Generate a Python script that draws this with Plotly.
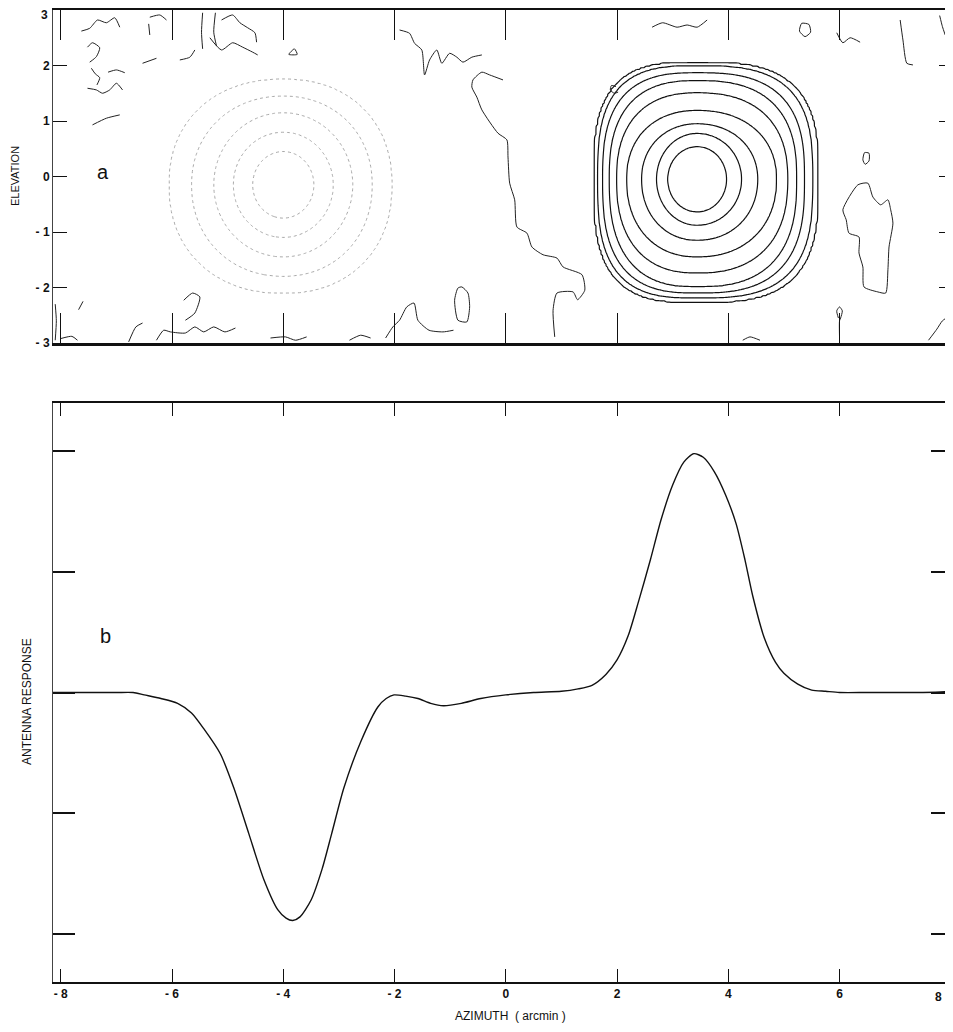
import numpy as np
import plotly.graph_objects as go

# ---------------- data ----------------
# (b) antenna response cut along azimuth (arcmin) ; response in tick units
AZIMUTH = [-8.15, -7.5, -7.0, -6.7, -6.5, -6.2, -5.9, -5.65, -5.43, -5.13, -4.89, -4.62,
           -4.35, -4.1, -3.95, -3.83, -3.7, -3.5, -3.3, -3.13, -2.91, -2.6, -2.3, -2.15,
           -2.01, -1.8, -1.58, -1.35, -1.12, -0.8, -0.45, 0.0, 0.5, 1.0, 1.3, 1.55, 1.8,
           2.0, 2.2, 2.39, 2.6, 2.79, 3.0, 3.2, 3.38, 3.55, 3.75, 3.95, 4.14, 4.3, 4.44,
           4.65, 4.85, 5.0, 5.25, 5.5, 5.75, 6.0, 6.5, 7.0, 7.5, 8.0, 8.15]
RESPONSE = [0.0, 0.0, 0.0, 0.0, -0.02, -0.05, -0.09, -0.17, -0.30, -0.51, -0.79, -1.17,
            -1.55, -1.80, -1.87, -1.89, -1.86, -1.72, -1.46, -1.17, -0.79, -0.40, -0.12, -0.05,
            -0.02, -0.03, -0.05, -0.09, -0.11, -0.09, -0.05, -0.02, 0.0, 0.01, 0.03, 0.06, 0.15,
            0.27, 0.47, 0.76, 1.10, 1.43, 1.72, 1.91, 1.98, 1.95, 1.83, 1.64, 1.40, 1.10, 0.80,
            0.45, 0.25, 0.16, 0.07, 0.02, 0.01, 0.0, 0.0, 0.0, 0.0, 0.01, 0.02]

# (a) positive source contour rings (extents in arcmin from the centre, inner -> outer)
POS_CENTER = (3.44, -0.05)
POS_EAST = [0.53, 0.80, 1.09, 1.43, 1.63, 1.79, 1.93, 2.08, 2.17]
POS_WEST = [0.53, 0.73, 1.00, 1.27, 1.45, 1.58, 1.70, 1.79, 1.85]
POS_NORTH = [0.59, 0.83, 1.00, 1.24, 1.56, 1.78, 1.92, 2.05, 2.10]
POS_SOUTH = [0.59, 0.83, 1.10, 1.40, 1.69, 1.94, 2.05, 2.14, 2.21]
POS_SQUARENESS = [2.0, 2.0, 2.1, 2.2, 2.4, 2.6, 2.8, 3.0, 3.1]

# (a) negative source (dotted) rings
NEG_CENTER = (-4.0, -0.15)
NEG_EAST = [0.55, 0.9, 1.25, 1.6, 1.95]
NEG_WEST = [0.55, 0.9, 1.25, 1.65, 2.05]
NEG_NORTH = [0.6, 0.95, 1.3, 1.6, 1.9]
NEG_SOUTH = [0.6, 0.95, 1.3, 1.65, 1.95]
NEG_SQUARENESS = [2.0, 2.0, 2.0, 2.1, 2.2]

# (a) low-level noise contours (azimuth, elevation)
NOISE_LINES = [
    ([-0.05, -0.29, -0.43, -0.59, -0.61, -0.52, -0.43, -0.14, 0.02, 0.04, 0.07, 0.16, 0.20, 0.38,
      0.47, 0.67, 0.92, 1.03, 1.37, 1.42, 1.29, 1.21, 0.92, 0.85, 0.88],
     [1.74, 1.83, 1.88, 1.74, 1.61, 1.43, 1.20, 0.78, 0.66, 0.35, -0.12, -0.42, -0.91, -1.02,
      -1.27, -1.41, -1.47, -1.63, -1.77, -2.05, -2.22, -2.08, -2.10, -2.41, -2.89]),
    ([-7.63, -7.48, -7.34, -7.18, -7.03, -6.94], [2.62, 2.67, 2.82, 2.77, 2.86, 2.69]),
    ([-7.52, -7.43, -7.30, -7.36, -7.48], [2.33, 2.41, 2.32, 2.16, 2.06]),
    ([-7.45, -7.38, -7.30, -7.35], [1.95, 1.85, 1.78, 1.65]),
    ([-7.15, -7.0, -6.85], [1.88, 1.92, 1.87]),
    ([-7.52, -7.36, -7.25, -7.12, -7.0, -6.89], [1.59, 1.56, 1.50, 1.56, 1.68, 1.56]),
    ([-7.43, -7.18, -6.94], [0.93, 1.05, 1.11]),
    ([-6.53, -6.28], [2.04, 2.13]),
    ([-6.42, -6.40], [2.75, 2.55]),
    ([-5.86, -5.68, -5.59], [2.10, 2.15, 2.28]),
    ([-5.45, -5.47, -5.45], [2.95, 2.60, 2.30]),
    ([-5.22, -5.25, -5.20], [2.95, 2.60, 2.35]),
    ([-5.32, -5.11, -4.91, -4.73, -4.55, -4.46], [2.50, 2.28, 2.41, 2.33, 2.24, 2.19]),
    ([-5.11, -4.91, -4.78, -4.64, -4.51, -4.48], [2.82, 2.91, 2.77, 2.68, 2.59, 2.42]),
    ([-6.40, -6.22, -6.10], [2.87, 2.91, 2.82]),
    ([-3.90, -3.80, -3.75, -3.90], [2.20, 2.30, 2.20, 2.20]),
    ([-1.91, -1.73, -1.64, -1.51, -1.46, -1.37, -1.24, -1.15, -1.01, -0.88, -0.77, -0.61, -0.43],
     [2.64, 2.58, 2.40, 2.28, 1.83, 2.10, 2.28, 2.04, 2.22, 2.15, 2.06, 2.15, 2.19]),
    ([1.98, 1.90, 1.88, 1.95, 2.02], [1.62, 1.64, 1.56, 1.50, 1.52]),
    ([2.63, 2.82, 3.08, 3.26, 3.44, 3.62], [2.69, 2.77, 2.69, 2.73, 2.69, 2.82]),
    ([5.28, 5.32, 5.45, 5.48, 5.38, 5.28], [2.62, 2.76, 2.74, 2.60, 2.52, 2.62]),
    ([5.95, 6.06, 6.19, 6.37], [2.59, 2.41, 2.50, 2.42]),
    ([7.09, 7.14, 7.21, 7.32], [2.82, 2.46, 2.04, 2.01]),
    ([7.80, 7.85, 7.90], [2.90, 2.70, 2.55]),
    ([6.06, 6.33, 6.51, 6.60, 6.74, 6.87, 6.92, 6.96, 6.89, 6.87, 6.83, 6.69, 6.44, 6.42, 6.35,
      6.35, 6.17, 6.12, 6.06],
     [-0.60, -0.15, -0.12, -0.37, -0.51, -0.42, -0.60, -0.84, -1.27, -1.68, -2.10, -2.08, -1.99,
      -1.63, -1.38, -1.09, -1.02, -0.78, -0.60]),
    ([6.42, 6.45, 6.53, 6.53, 6.46, 6.42], [0.30, 0.43, 0.42, 0.28, 0.22, 0.30]),
    ([-0.79, -0.68, -0.65, -0.70, -0.86, -0.92, -0.86, -0.79],
     [-1.99, -2.10, -2.35, -2.62, -2.59, -2.23, -2.01, -1.99]),
    ([-8.10, -8.08, -8.10], [-2.30, -2.60, -2.95]),
    ([-8.0, -7.8, -7.7], [-2.92, -2.88, -2.95]),
    ([-7.68, -7.60], [-2.40, -2.25]),
    ([-6.78, -6.65, -6.53], [-2.98, -2.71, -2.64]),
    ([-6.28, -6.15, -6.03, -5.76, -5.59, -5.43, -5.25, -5.05, -4.86],
     [-2.95, -2.77, -2.80, -2.82, -2.71, -2.80, -2.71, -2.80, -2.73]),
    ([-5.79, -5.63, -5.50, -5.59, -5.76], [-2.23, -2.10, -2.17, -2.46, -2.59]),
    ([-4.23, -3.96, -3.78, -3.58], [-2.91, -2.89, -2.95, -2.89]),
    ([-2.81, -2.61, -2.43], [-2.95, -2.86, -2.91]),
    ([-2.16, -2.03, -1.91, -1.78, -1.65, -1.58, -1.38, -1.13, -0.94],
     [-2.91, -2.71, -2.59, -2.35, -2.28, -2.59, -2.77, -2.80, -2.77]),
    ([4.26, 4.39, 4.57], [-2.95, -2.89, -2.95]),
    ([5.98, 5.95, 6.0, 6.05, 6.02, 6.0, 6.0], [-2.55, -2.42, -2.35, -2.42, -2.55, -2.6, -2.9]),
    ([7.6, 7.75, 7.85, 8.0], [-2.95, -2.75, -2.6, -2.5]),
]

ELEV_TICKS = [-3, -2, -1, 0, 1, 2, 3]
ELEV_LABELS = ["- 3", "- 2", "- 1", "0", "1", "2", "3"]
AZ_TICKS = [-8, -6, -4, -2, 0, 2, 4, 6, 8]
AZ_LABELS = ["- 8", "- 6", "- 4", "- 2", "0", "2", "4", "6", "8"]
RESP_TICKS = [-2, -1, 0, 1, 2]


# ---------------- build contour fields from the read ring extents ----------------
def ring_field(center, east, west, north, south, sq, xr, yr, step=0.03):
    gx = np.arange(xr[0], xr[1] + 1e-9, step)
    gy = np.arange(yr[0], yr[1] + 1e-9, step)
    X, Y = np.meshgrid(gx, gy)
    dx = X - center[0]
    dy = Y - center[1]
    n = len(east)
    L = []
    for k in range(n):
        a = np.where(dx >= 0, east[k], west[k])
        b = np.where(dy >= 0, north[k], south[k])
        p = sq[k]
        rho = (np.abs(dx / a) ** p + np.abs(dy / b) ** p) ** (1.0 / p)
        L.append(np.log(np.maximum(rho, 1e-6)))
    z = np.zeros_like(X)
    z = np.where(L[0] < 0, n - 2.0 * L[0], z)
    z = np.where(L[-1] > 0, 1 - 2.0 * L[-1], z)
    for k in range(n - 1):
        m = (L[k] >= 0) & (L[k + 1] < 0)
        t = L[k] / np.where(m, L[k] - L[k + 1], 1.0)
        z = np.where(m, (n - k) - t, z)
    return np.round(gx, 3), np.round(gy, 3), np.round(z, 3)


pgx, pgy, pz = ring_field(POS_CENTER, POS_EAST, POS_WEST, POS_NORTH, POS_SOUTH,
                          POS_SQUARENESS, (0.9, 6.1), (-2.9, 2.7))
ngx, ngy, nz = ring_field(NEG_CENTER, NEG_EAST, NEG_WEST, NEG_NORTH, NEG_SOUTH,
                          NEG_SQUARENESS, (-6.8, -1.4), (-2.7, 2.4))

noise_x, noise_y = [], []
for xs, ys in NOISE_LINES:
    noise_x += list(xs) + [None]
    noise_y += list(ys) + [None]

# ---------------- figure ----------------
# the page body has an 8px margin, so the figure sits 8px in from the window edge
OFF = 8
W, H = 953 - OFF, 1032 - 2 * OFF
ML, MR, MT = 53 - OFF, 0, 10 - OFF
MB = H - (982 - OFF)
plot_h = H - MT - MB
plot_w = W - ML - MR


def ydom(top_px, bottom_px):
    # page pixel rows -> paper fractions
    return [(H - MB - (bottom_px - OFF)) / plot_h, (H - MB - (top_px - OFF)) / plot_h]


def px_x(page_x):
    return (page_x - OFF - ML) / plot_w


def px_y(page_y):
    return (H - MB - (page_y - OFF)) / plot_h


fig = go.Figure()

fig.add_trace(go.Contour(
    x=ngx, y=ngy, z=nz, xaxis="x", yaxis="y",
    contours=dict(start=1, end=len(NEG_EAST), size=1, coloring="none"),
    line=dict(color="#a8a8a8", width=1, dash="dot", smoothing=1),
    showscale=False, hoverinfo="skip"))

fig.add_trace(go.Contour(
    x=pgx, y=pgy, z=pz, xaxis="x", yaxis="y",
    contours=dict(start=1, end=len(POS_EAST), size=1, coloring="none"),
    line=dict(color="#111111", width=1.2, smoothing=1),
    showscale=False, hoverinfo="skip"))

fig.add_trace(go.Scatter(
    x=noise_x, y=noise_y, xaxis="x", yaxis="y", mode="lines",
    line=dict(color="#222222", width=1, shape="spline", smoothing=0.6),
    connectgaps=False, hoverinfo="skip", showlegend=False))

fig.add_trace(go.Scatter(
    x=AZIMUTH, y=RESPONSE, xaxis="x2", yaxis="y2", mode="lines",
    line=dict(color="#111111", width=1.4, shape="spline", smoothing=0.7),
    hoverinfo="skip", showlegend=False))

FONT = "Liberation Sans, Arial, sans-serif"
tickfont = dict(family=FONT, size=12, color="#111111", weight="bold")
XR = [-8.14, 8.04]

# the top-most / right-most tick labels sit at the window edge; they are drawn as
# annotations slightly inside so that they stay readable
elev_text = [t if v != ELEV_TICKS[-1] else "" for v, t in zip(ELEV_TICKS, ELEV_LABELS)]
az_text = [t if v != AZ_TICKS[-1] else "" for v, t in zip(AZ_TICKS, AZ_LABELS)]

fig.update_layout(
    width=W, height=H,
    margin=dict(l=ML, r=MR, t=MT, b=MB, autoexpand=False),
    paper_bgcolor="white", plot_bgcolor="white",
    showlegend=False,
    xaxis=dict(domain=[0, 1], range=XR, anchor="y", showgrid=False, zeroline=False,
               showline=True, linewidth=2.5, linecolor="#111111", mirror="allticks",
               ticks="inside", ticklen=30, tickwidth=1.2, tickcolor="#111111",
               tickvals=AZ_TICKS, showticklabels=False),
    yaxis=dict(domain=ydom(10, 343), range=[-3, 3], anchor="x", showgrid=False,
               zeroline=False, showline=True, linewidth=1, linecolor="#444444",
               mirror="allticks", ticks="inside", ticklen=14, tickwidth=1.2,
               tickcolor="#111111", tickvals=ELEV_TICKS, ticktext=elev_text,
               tickfont=tickfont),
    xaxis2=dict(domain=[0, 1], range=XR, anchor="y2", showgrid=False, zeroline=False,
                showline=True, linewidth=2, linecolor="#111111", mirror="allticks",
                ticks="inside", ticklen=13, tickwidth=1, tickcolor="#111111",
                tickvals=AZ_TICKS, ticktext=az_text, tickfont=tickfont),
    yaxis2=dict(domain=ydom(403, 982), range=[-2.4, 2.4], anchor="x2", showgrid=False,
                zeroline=False, showline=True, linewidth=1, linecolor="#444444",
                mirror="allticks", ticks="inside", ticklen=22, tickwidth=1.5,
                tickcolor="#111111", tickvals=RESP_TICKS, showticklabels=False),
)

fig.add_annotation(text=ELEV_LABELS[-1], xref="paper", yref="paper",
                   x=px_x(50), y=px_y(15), xanchor="right", yanchor="middle",
                   showarrow=False, font=tickfont)
fig.add_annotation(text=AZ_LABELS[-1], xref="paper", yref="paper",
                   x=px_x(944), y=px_y(997), xanchor="right", yanchor="middle",
                   showarrow=False, font=tickfont)

labfont = dict(family=FONT, size=12, color="#111111")
fig.add_annotation(text="ELEVATION", xref="paper", yref="paper",
                   x=px_x(15), y=px_y(176), xanchor="center", yanchor="middle",
                   textangle=-90, showarrow=False, font=dict(labfont, size=11))
fig.add_annotation(text="ANTENNA RESPONSE", xref="paper", yref="paper",
                   x=px_x(27), y=px_y(702), xanchor="center", yanchor="middle",
                   textangle=-90, showarrow=False, font=labfont)
fig.add_annotation(text="AZIMUTH  ( arcmin )", xref="paper", yref="paper",
                   x=px_x(511), y=px_y(1016), xanchor="center", yanchor="middle",
                   showarrow=False, font=labfont)
fig.add_annotation(text="a", xref="x", yref="y", x=-7.25, y=0.08, showarrow=False,
                   font=dict(family=FONT, size=20, color="#111111"))
fig.add_annotation(text="b", xref="x2", yref="y2", x=-7.2, y=0.47, showarrow=False,
                   font=dict(family=FONT, size=20, color="#111111"))

fig.write_html("out.html")
